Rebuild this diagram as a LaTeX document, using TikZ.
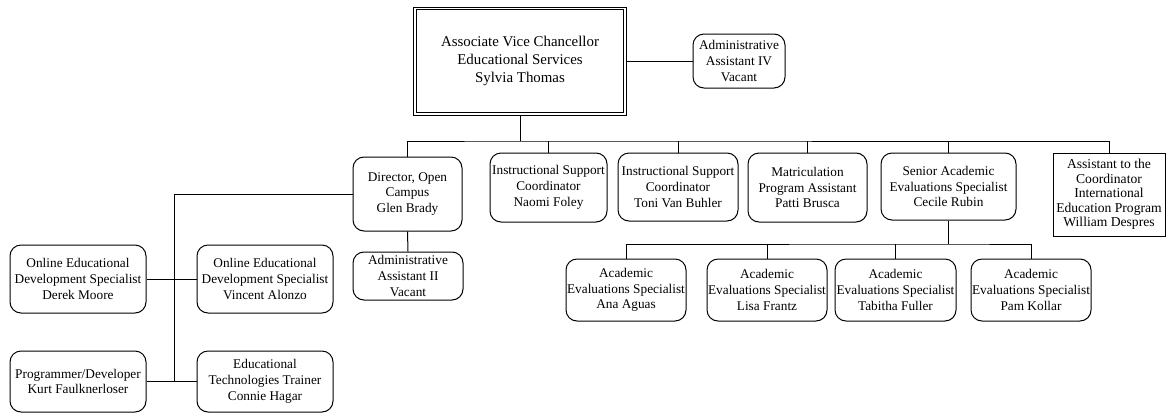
\documentclass[tikz,border=0pt]{standalone}
\usepackage{fontspec}
\setmainfont{Liberation Serif}
\begin{document}
\begin{tikzpicture}[x=1pt,y=-1pt,
  conn/.style={draw=black,line width=1pt},
  rbox/.style={draw=black,line width=1pt,rounded corners=11pt,inner sep=0pt,align=center,
    font=\fontsize{13.3}{15.8}\selectfont},
  sbox/.style={draw=black,line width=1pt,inner sep=0pt,align=center,
    font=\fontsize{13.6}{14.6}\selectfont},
  headbox/.style={draw=black,line width=1pt,inner sep=0pt,align=center,
    font=\fontsize{14.9}{18.3}\selectfont},
  innerframe/.style={draw=black,line width=1pt}]
\useasboundingbox (0,0) rectangle (1167,413);
% head
\node[headbox,minimum width=213pt,minimum height=108pt] (top) at (520,61) {Associate Vice Chancellor\\Educational Services\\Sylvia Thomas};
\draw[innerframe] ([shift={(3.2,3.2)}]top.north west) rectangle ([shift={(-3.2,-3.2)}]top.south east);
\node[rbox,minimum width=92pt,minimum height=54pt] (aa4) at (739,61) {Administrative\\Assistant IV\\Vacant};
% second row
\node[rbox,minimum width=109pt,minimum height=74pt] (director) at (407.5,194) {Director, Open\\Campus\\Glen Brady};
\node[rbox,minimum width=110pt,minimum height=48pt] (aa2) at (408,276) {Administrative\\Assistant II\\Vacant};
\node[rbox,minimum width=117pt,minimum height=69pt] (naomi) at (548.5,187.5) {Instructional Support\\Coordinator\\Naomi Foley};
\node[rbox,minimum width=120pt,minimum height=68pt] (toni) at (678,187) {Instructional Support\\Coordinator\\Toni Van Buhler};
\node[rbox,minimum width=119pt,minimum height=69pt] (patti) at (807.5,187.5) {Matriculation\\Program Assistant\\Patti Brusca};
\node[rbox,minimum width=135pt,minimum height=67pt] (senior) at (948.5,186.5) {Senior Academic\\Evaluations Specialist\\Cecile Rubin};
\node[sbox,minimum width=112pt,minimum height=83pt] (william) at (1109,194.5) {Assistant to the\\Coordinator\\International\\Education Program\\William Despres};
% left group
\node[rbox,minimum width=136pt,minimum height=68pt] (derek) at (78,279) {Online Educational\\Development Specialist\\Derek Moore};
\node[rbox,minimum width=136pt,minimum height=68pt] (vincent) at (265,279) {Online Educational\\Development Specialist\\Vincent Alonzo};
\node[rbox,minimum width=136pt,minimum height=61pt] (prog) at (78,381.5) {Programmer/Developer\\Kurt Faulknerloser};
\node[rbox,minimum width=136pt,minimum height=61pt] (connie) at (265,381.5) {Educational\\Technologies Trainer\\Connie Hagar};
% bottom row
\node[rbox,minimum width=120pt,minimum height=62pt] (ana) at (626,290) {Academic\\Evaluations Specialist\\Ana Aguas};
\node[rbox,minimum width=120pt,minimum height=62pt] (lisa) at (767,290) {Academic\\Evaluations Specialist\\Lisa Frantz};
\node[rbox,minimum width=121pt,minimum height=62pt] (tabitha) at (895.5,290) {Academic\\Evaluations Specialist\\Tabitha Fuller};
\node[rbox,minimum width=120pt,minimum height=62pt] (pam) at (1031,290) {Academic\\Evaluations Specialist\\Pam Kollar};
% connectors
\coordinate (bus) at (520,141);
\coordinate (sbus) at (948.5,244);
\coordinate (spine) at (174,381.5);
\draw[conn] (top.east) -- (aa4.west);
\draw[conn] (top.south) -- (bus);
\draw[conn] (director.north) |- (bus) -| (william.north);
\draw[conn] (naomi.north) -- (naomi.north |- bus);
\draw[conn] (toni.north) -- (toni.north |- bus);
\draw[conn] (patti.north) -- (patti.north |- bus);
\draw[conn] (senior.north) -- (senior.north |- bus);
\draw[conn] (director.south) -- (aa2.north);
\draw[conn] (director.west) -| (spine);
\draw[conn] (derek.east) -- (vincent.west);
\draw[conn] (prog.east) -- (connie.west);
\draw[conn] (senior.south) -- (sbus);
\draw[conn] (ana.north) |- (sbus) -| (pam.north);
\draw[conn] (lisa.north) -- (lisa.north |- sbus);
\draw[conn] (tabitha.north) -- (tabitha.north |- sbus);
\end{tikzpicture}
\end{document}
